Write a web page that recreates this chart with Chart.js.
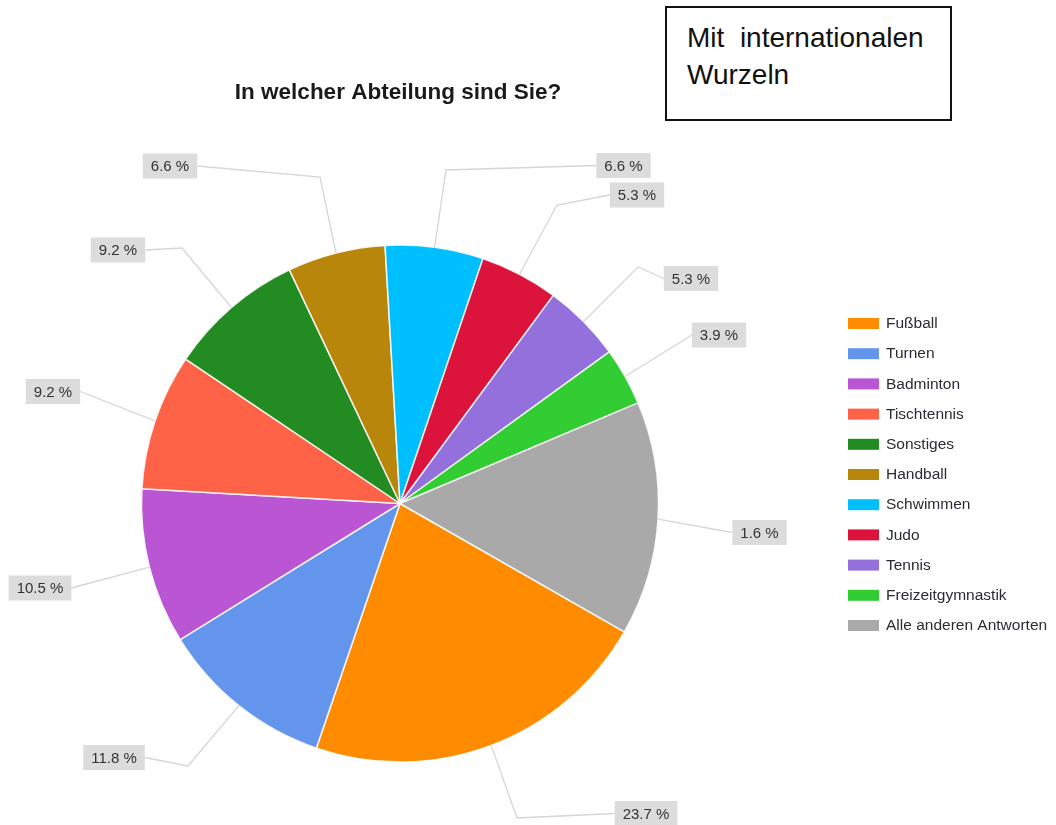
<!DOCTYPE html>
<html lang="de">
<head>
<meta charset="utf-8">
<title>In welcher Abteilung sind Sie?</title>
<script src="https://cdn.jsdelivr.net/npm/chart.js@4/dist/chart.umd.min.js"></script>
<style>
  html, body { margin: 0; padding: 0; background: #ffffff; }
  #wrap { position: relative; width: 1056px; height: 825px; overflow: hidden; }
  #chart { position: absolute; left: 0; top: 0; }
  #note {
    position: absolute; left: 665px; top: 6px; width: 287px; height: 115px;
    box-sizing: border-box; border: 2px solid #111; background: #fff;
    padding: 11px 0 0 20px;
    font-family: "Liberation Sans", Arial, sans-serif; font-size: 28px; line-height: 37px;
    color: #111; white-space: pre;
  }
</style>
</head>
<body>
<div id="wrap">
  <canvas id="chart" width="1056" height="825"></canvas>
  <div id="note">Mit  internationalen
Wurzeln</div>
</div>
<script>
// Abteilungen (Reihenfolge wie in der Legende)
const categories = [
  'Fußball', 'Turnen', 'Badminton', 'Tischtennis', 'Sonstiges', 'Handball',
  'Schwimmen', 'Judo', 'Tennis', 'Freizeitgymnastik', 'Alle anderen Antworten'
];
// Anteil der Befragten in Prozent (Mehrfachnennungen)
const shares = [23.7, 11.8, 10.5, 9.2, 9.2, 6.6, 6.6, 5.3, 5.3, 3.9, 15.8];
// Beschriftungen an den Segmenten
const shareLabels = [
  '23.7 %', '11.8 %', '10.5 %', '9.2 %', '9.2 %', '6.6 %',
  '6.6 %', '5.3 %', '5.3 %', '3.9 %', '1.6 %'
];
const sliceColors = [
  '#FF8C00', '#6495ED', '#BA55D3', '#FF6347', '#228B22', '#B8860B',
  '#00BFFF', '#DC143C', '#9370DB', '#32CD32', '#A9A9A9'
];
const chartTitle = 'In welcher Abteilung sind Sie?';

// Lage der Beschriftungskästen relativ zur Kreismitte, optional mit Knickpunkt
const labelPlacement = [
  { box: [246, 310],   elbow: [117, 314.5] },
  { box: [-286, 254],  elbow: [-212, 262.5] },
  { box: [-360, 84.5], elbow: null },
  { box: [-347, -112], elbow: null },
  { box: [-282, -253.5], elbow: [-218, -255.5] },
  { box: [-230, -337.5], elbow: [-80, -326.5] },
  { box: [223.5, -338],  elbow: [46, -333.5] },
  { box: [237, -308.5],  elbow: [157, -298.5] },
  { box: [291, -225],    elbow: [238, -236.5] },
  { box: [319, -168.5],  elbow: null },
  { box: [359.5, 29],    elbow: null }
];

const FONT = '"Liberation Sans", Arial, Helvetica, sans-serif';

// Verbindungslinien und graue Wertkästen
const pieLabels = {
  id: 'pieLabels',
  afterDatasetsDraw(chart) {
    const ctx = chart.ctx;
    const meta = chart.getDatasetMeta(0);
    ctx.save();
    ctx.font = '15px ' + FONT;
    meta.data.forEach((arc, i) => {
      const p = arc.getProps(['x', 'y', 'startAngle', 'endAngle', 'outerRadius'], true);
      const mid = (p.startAngle + p.endAngle) / 2;
      const ax = p.x + Math.cos(mid) * p.outerRadius;
      const ay = p.y + Math.sin(mid) * p.outerRadius;
      const place = labelPlacement[i];
      const text = shareLabels[i];
      const bx = p.x + place.box[0];
      const by = p.y + place.box[1];
      const w = ctx.measureText(text).width + 16;
      const h = 25;
      const ex = bx < p.x ? bx + w / 2 : bx - w / 2;

      ctx.strokeStyle = '#d6d6d6';
      ctx.lineWidth = 1.3;
      ctx.beginPath();
      ctx.moveTo(ax, ay);
      if (place.elbow) ctx.lineTo(p.x + place.elbow[0], p.y + place.elbow[1]);
      ctx.lineTo(ex, by);
      ctx.stroke();

      ctx.fillStyle = '#dcdcdc';
      ctx.fillRect(bx - w / 2, by - h / 2, w, h);
      ctx.fillStyle = '#333333';
      ctx.textAlign = 'center';
      ctx.textBaseline = 'middle';
      ctx.fillText(text, bx, by + 1);
    });
    ctx.restore();
  },
  afterDraw(chart) {
    const ctx = chart.ctx;
    ctx.save();
    // Titel
    ctx.fillStyle = '#1a1a1a';
    ctx.font = 'bold 22.5px ' + FONT;
    ctx.textAlign = 'center';
    ctx.textBaseline = 'alphabetic';
    ctx.fillText(chartTitle, 398, 99);

    // Legende
    ctx.font = '15.5px ' + FONT;
    ctx.textAlign = 'left';
    ctx.textBaseline = 'middle';
    categories.forEach((name, i) => {
      const y = 323.5 + i * 30.2;
      ctx.fillStyle = sliceColors[i];
      ctx.fillRect(848, y - 5.5, 31, 11);
      ctx.fillStyle = '#2e2a33';
      ctx.fillText(name, 886, y + 0.5);
    });
    ctx.restore();
  }
};

new Chart(document.getElementById('chart'), {
  type: 'pie',
  data: {
    labels: categories,
    datasets: [{
      data: shares,
      backgroundColor: sliceColors,
      borderColor: 'rgba(255,255,255,0.85)',
      borderWidth: 1.5,
      radius: 258.5
    }]
  },
  options: {
    responsive: false,
    devicePixelRatio: 1,
    animation: false,
    events: [],
    rotation: 119.8,
    layout: { padding: { left: 0, right: 256, top: 182, bottom: 0 } },
    plugins: {
      legend: { display: false },
      title: { display: false },
      tooltip: { enabled: false }
    }
  },
  plugins: [pieLabels]
});
</script>
</body>
</html>
